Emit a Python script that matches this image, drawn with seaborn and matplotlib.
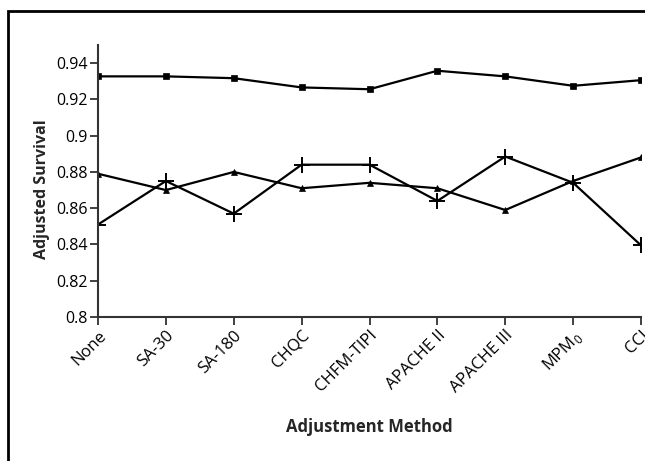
import matplotlib
matplotlib.use("Agg")
import matplotlib.pyplot as plt
import matplotlib.patches as patches
import seaborn as sns

# ---------------------------------
# Data
# ---------------------------------

methods = ["None", "SA-30", "SA-180", "CHQC", "CHFM-TIPI",
           "APACHE II", "APACHE III", "MPM$_\\mathregular{0}$", "CCI"]

square_series = [0.9327, 0.9327, 0.9317, 0.9266, 0.9256,
                 0.9358, 0.9327, 0.9275, 0.9306]

triangle_series = [0.879, 0.870, 0.880, 0.871, 0.874,
                   0.871, 0.859, 0.875, 0.888]

plus_series = [0.851, 0.875, 0.857, 0.884, 0.884,
               0.864, 0.8885, 0.874, 0.8395]

y_ticks = [0.80, 0.82, 0.84, 0.86, 0.88, 0.90, 0.92, 0.94]

sns.set_style("ticks")
plt.rcParams["font.family"] = ["Open Sans", "DejaVu Sans"]

fig = plt.figure(figsize=(6.45, 4.61), dpi=100)
ax = fig.add_axes([98 / 645, 1 - 317 / 461, (641 - 98) / 645, (317 - 45) / 461])

x_pos = list(range(len(methods)))

# ---------------------------------
# Lines
# ---------------------------------

line_kw = dict(ax=ax, color="black", lw=1.6, markeredgecolor="black")

sns.lineplot(x=x_pos, y=square_series, marker="s", markersize=5,
             markeredgewidth=0.5, **line_kw)
sns.lineplot(x=x_pos, y=triangle_series, marker="^", markersize=5,
             markeredgewidth=0.5, **line_kw)
sns.lineplot(x=x_pos, y=plus_series, marker="+", markersize=12,
             markeredgewidth=1.4, **line_kw)

# ---------------------------------
# Axes styling
# ---------------------------------

ax.set_xlim(0, len(methods) - 1)
ax.set_ylim(0.8, 0.95)

ax.set_yticks(y_ticks)
ax.set_yticklabels([f"{v:g}" for v in y_ticks], fontsize=11.5)

ax.set_xticks(x_pos)
ax.set_xticklabels(methods, rotation=45, ha="right", va="top",
                   rotation_mode="anchor", fontsize=12)

sns.despine(ax=ax)
for side in ["left", "bottom"]:
    ax.spines[side].set_linewidth(1.5)
    ax.spines[side].set_color("#333333")
ax.tick_params(axis="both", width=1.3, length=6, color="#333333",
               labelcolor="black", pad=1.5)

ax.set_xlabel("Adjustment Method", fontsize=12, fontweight="bold")
ax.xaxis.set_label_coords(0.5, -(427 - 317) / 272)
ax.xaxis.label.set_va("center")

ax.set_ylabel("Adjusted Survival", fontsize=11.5, fontweight="bold")
ax.yaxis.set_label_coords(-(98 - 42) / 543, 0.47)
ax.yaxis.label.set_va("center")

# frame around figure (cropped on the right and bottom)
frame = patches.Rectangle((8 / 645, -0.1), 2, 1 - 11 / 461 + 0.1,
                          transform=fig.transFigure, fill=False,
                          lw=2, ec="black")
fig.patches.append(frame)

fig.savefig("out.png", dpi=100)
plt.close(fig)
